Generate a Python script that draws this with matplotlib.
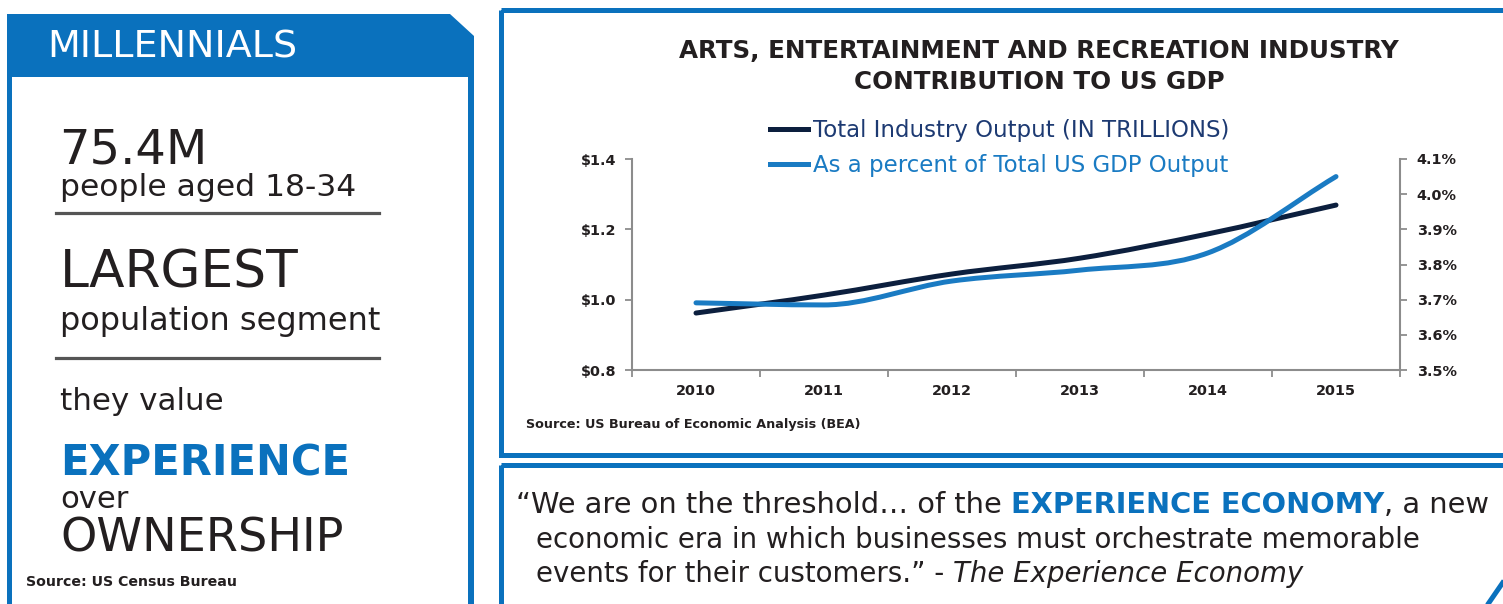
import matplotlib
matplotlib.use("Agg")
import numpy as np
import matplotlib.pyplot as plt
from matplotlib.patches import Polygon, Rectangle, PathPatch
from matplotlib.path import Path
from matplotlib.lines import Line2D

plt.rcParams['font.family'] = ['DejaVu Sans']

# ---- data ----
years = ['2010', '2011', '2012', '2013', '2014', '2015']
output_trillions = [0.962, 1.013, 1.073, 1.118, 1.187, 1.269]
pct_of_gdp = [3.691, 3.685, 3.753, 3.784, 3.833, 4.050]
left_ticks = [0.8, 1.0, 1.2, 1.4]
right_ticks = [3.5, 3.6, 3.7, 3.8, 3.9, 4.0, 4.1]
legend_labels = ['Total Industry Output (IN TRILLIONS)',
                 'As a percent of Total US GDP Output']

BLUE = '#0a71bd'
NAVY = '#0c1f3e'
LBLUE = '#1a7bc3'
DARK = '#231f20'
GREY = '#8c8c8c'

W, H = 1503, 604
fig = plt.figure(figsize=(W / 100, H / 100), dpi=100)
fig.patch.set_facecolor('white')
renderer = fig.canvas.get_renderer()

# background axes in pixel coordinates (y down)
bg = fig.add_axes([0, 0, 1, 1])
bg.set_xlim(0, W)
bg.set_ylim(H, 0)
bg.axis('off')


def fit(t, width):
    # scale font size so the text spans the given pixel width
    for _ in range(3):
        w = t.get_window_extent(renderer).width
        t.set_fontsize(t.get_fontsize() * width / w)
    return t


def label(x, y, s, width, **kw):
    kw.setdefault('color', DARK)
    t = bg.text(x, y, s, fontsize=20, **kw)
    return fit(t, width)


# left panel: header band with chamfered corner + side borders
bg.add_patch(Polygon([(7, 14), (450, 14), (474, 36), (474, 77), (7, 77)],
                     closed=True, fc=BLUE, ec='none'))
bg.add_patch(Rectangle((7, 77), 5, 540, fc=BLUE, ec='none'))
bg.add_patch(Rectangle((468, 77), 6, 540, fc=BLUE, ec='none'))

# right panels
bg.add_patch(Rectangle((501, 10), 1100, 444.5, fill=False, ec=BLUE, lw=3.6))
bg.add_patch(Rectangle((501, 465), 1100, 300, fill=False, ec=BLUE, lw=3.6))
bg.plot([1486, 1508], [607, 575], color=BLUE, lw=3.6, solid_capstyle='butt')

# left panel text
label(47, 58, 'MILLENNIALS', 250, color='white')
label(59, 163, '75.4M', 148)
label(60, 196, 'people aged 18-34', 296)
bg.plot([56, 379], [213, 213], color='#555555', lw=2.3)
label(60, 288, 'LARGEST', 238)
label(60, 330, 'population segment', 321)
bg.plot([56, 379], [358, 358], color='#555555', lw=2.3)
label(60, 410, 'they value', 163)
label(60, 476, 'EXPERIENCE', 290, color=BLUE, fontweight='bold')
label(60, 508, 'over', 68)
label(60, 552, 'OWNERSHIP', 283)
label(26, 586, 'Source: US Census Bureau', 210, fontweight='bold')

# chart title / source
t1 = label(1039, 58, 'ARTS, ENTERTAINMENT AND RECREATION INDUSTRY', 719,
           ha='center', fontweight='bold')
bg.text(1039, 89, 'CONTRIBUTION TO US GDP', color=DARK, fontweight='bold',
        fontsize=t1.get_fontsize(), ha='center')
label(526, 428, 'Source: US Bureau of Economic Analysis (BEA)', 333,
      fontweight='bold')

# ---- chart ----
ax = fig.add_axes([632 / W, 1 - 370 / H, (1400 - 632) / W, (370 - 159) / H])
ax.patch.set_alpha(0)
ax2 = ax.twinx()
x = np.arange(len(years))


def smooth_path(xs, ys):
    # monotone cubic (Fritsch-Carlson) drawn as Bezier segments
    xs = np.asarray(xs, float)
    ys = np.asarray(ys, float)
    d = np.diff(ys) / np.diff(xs)
    m = np.zeros_like(ys)
    m[0], m[-1] = d[0], d[-1]
    for i in range(1, len(ys) - 1):
        m[i] = 0 if d[i - 1] * d[i] <= 0 else (d[i - 1] + d[i]) / 2
    verts = [(xs[0], ys[0])]
    codes = [Path.MOVETO]
    for i in range(len(xs) - 1):
        h = xs[i + 1] - xs[i]
        verts += [(xs[i] + h / 3, ys[i] + m[i] * h / 3),
                  (xs[i + 1] - h / 3, ys[i + 1] - m[i + 1] * h / 3),
                  (xs[i + 1], ys[i + 1])]
        codes += [Path.CURVE4] * 3
    return Path(verts, codes)


ax.add_patch(PathPatch(smooth_path(x, output_trillions), fill=False,
                       ec=NAVY, lw=3.6, capstyle='round'))
ax2.add_patch(PathPatch(smooth_path(x, pct_of_gdp), fill=False,
                        ec=LBLUE, lw=3.6, capstyle='round'))

ax.set_xlim(-0.5, len(years) - 0.5)
ax.set_ylim(left_ticks[0], left_ticks[-1])
ax2.set_ylim(right_ticks[0], right_ticks[-1])

TICK_FS = 10.4
ax.set_xticks(x)
ax.set_xticklabels(years)
ax.set_xticks(np.arange(-0.5, len(years)), minor=True)
ax.tick_params(axis='x', which='major', length=0, pad=10, labelsize=TICK_FS,
               labelcolor=DARK)
ax.tick_params(axis='x', which='minor', length=5, width=1.3, color=GREY,
               direction='out')

ax.set_yticks(left_ticks)
ax.set_yticklabels(['$%.1f' % v for v in left_ticks])
ax.tick_params(axis='y', length=5, width=1.3, color=GREY, direction='out',
               pad=6, labelsize=TICK_FS, labelcolor=DARK)

ax2.set_yticks(right_ticks)
ax2.set_yticklabels(['%.1f%%' % v for v in right_ticks])
ax2.tick_params(axis='y', length=5, width=1.3, color=GREY, direction='out',
                pad=7, labelsize=TICK_FS, labelcolor=DARK)
for t in ax.get_xticklabels() + ax.get_yticklabels() + ax2.get_yticklabels():
    t.set_fontweight('bold')

for a in (ax, ax2):
    for s in a.spines.values():
        s.set_visible(False)
ax.spines['left'].set_visible(True)
ax.spines['bottom'].set_visible(True)
ax2.spines['right'].set_visible(True)
for s in (ax.spines['left'], ax.spines['bottom'], ax2.spines['right']):
    s.set_color(GREY)
    s.set_linewidth(1.5)

# legend font size measured so the first label spans the reference width
probe = fit(bg.text(0, 0, legend_labels[0], fontsize=15), 417)
leg_fs = probe.get_fontsize()
probe.remove()
leg_px = leg_fs * 100 / 72
handles = [Line2D([], [], color=NAVY, lw=3.6),
           Line2D([], [], color=LBLUE, lw=3.6)]
leg = ax2.legend(handles, legend_labels,
                 loc='upper left', bbox_to_anchor=(770 / W, 1 - 119 / H),
                 bbox_transform=fig.transFigure, frameon=False,
                 handlelength=38 / leg_px, handletextpad=5 / leg_px,
                 labelspacing=0.52, prop={'size': leg_fs},
                 labelcolor=['#1d3a72', LBLUE], borderaxespad=0,
                 borderpad=0)


# ---- quote (mixed styles on one line) ----
def run(x0, y, pieces, width):
    size = 20
    for _ in range(3):
        texts = []
        xs = x0
        for txt, color, weight, style in pieces:
            t = bg.text(xs, y, txt, color=color, fontsize=size,
                        fontweight=weight, fontstyle=style)
            xs = t.get_window_extent(renderer).x1
            texts.append(t)
        total = xs - x0
        for t in texts:
            t.remove()
        size *= width / total
    xs = x0
    for txt, color, weight, style in pieces:
        t = bg.text(xs, y, txt, color=color, fontsize=size,
                    fontweight=weight, fontstyle=style)
        xs = t.get_window_extent(renderer).x1


run(516, 513, [('\u201cWe are on the threshold\u2026 of the ', DARK, 'normal', 'normal'),
               ('EXPERIENCE ECONOMY', BLUE, 'bold', 'normal'),
               (', a new', DARK, 'normal', 'normal')], 973)
run(536, 548, [('economic era in which businesses must orchestrate memorable',
                DARK, 'normal', 'normal')], 886)
run(536, 582, [('events for their customers.\u201d - ', DARK, 'normal', 'normal'),
               ('The Experience Economy', DARK, 'normal', 'italic')], 769)

fig.savefig('out.png', dpi=100, facecolor='white')
